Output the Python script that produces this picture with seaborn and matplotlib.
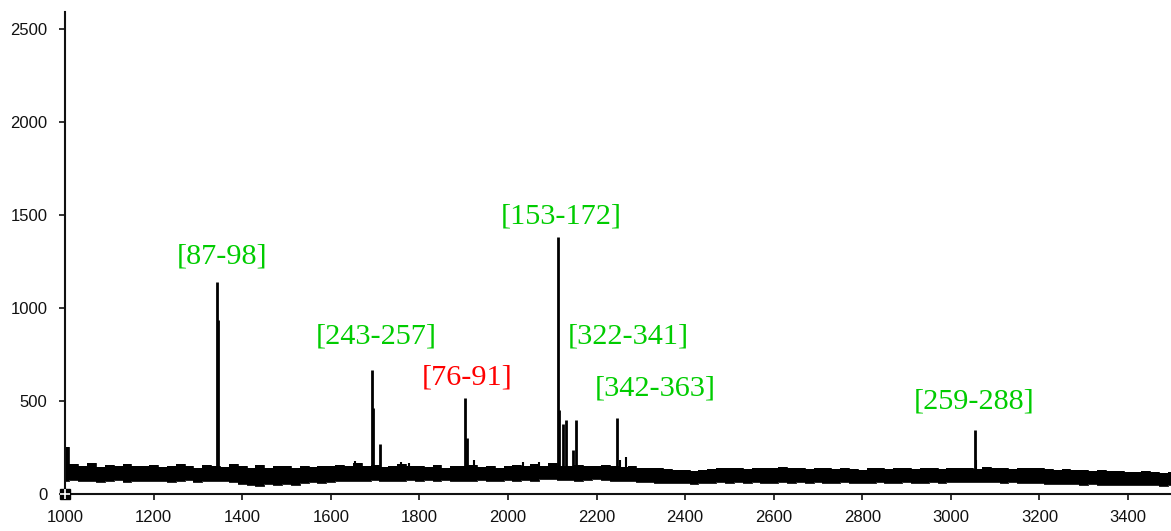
import numpy as np
import matplotlib
matplotlib.use("Agg")
import matplotlib.pyplot as plt
import seaborn as sns

# m/z axis sampling of the baseline envelope (20 Da bins)
mz_start, mz_stop, mz_step = 1000, 3500, 20

# upper edge of the baseline noise band, one value per bin
noise_upper = [
    250, 160, 150, 165, 145, 155, 150, 160, 148, 152,
    158, 145, 150, 162, 148, 140, 155, 150, 145, 160,
    150, 142, 155, 138, 148, 150, 140, 152, 145, 150,
    148, 155, 150, 165, 150, 158, 145, 152, 160, 148,
    150, 145, 158, 140, 152, 148, 155, 145, 150, 142,
    148, 155, 150, 160, 152, 165, 150, 148, 155, 150,
    152, 158, 150, 145, 148, 142, 138, 140, 135, 130,
    128, 125, 130, 135, 140, 138, 142, 135, 140, 138,
    140, 145, 138, 142, 135, 140, 138, 132, 140, 136,
    130, 138, 142, 135, 140, 138, 135, 142, 138, 135,
    140, 138, 142, 135, 145, 138, 140, 135, 138, 140,
    138, 135, 130, 132, 128, 130, 125, 128, 124, 122,
    120, 118, 122, 118, 115, 118,
]

# lower edge of the baseline noise band
noise_lower = [
    70, 75, 68, 72, 65, 70, 74, 66, 70, 72,
    68, 72, 65, 70, 74, 66, 70, 68, 72, 65,
    55, 50, 45, 52, 48, 55, 50, 58, 62, 60,
    65, 70, 68, 72, 70, 75, 68, 72, 70, 74,
    72, 75, 70, 74, 68, 72, 70, 75, 72, 70,
    74, 70, 75, 72, 78, 80, 76, 74, 72, 75,
    78, 76, 72, 70, 68, 65, 62, 60, 58, 60,
    58, 55, 60, 58, 62, 60, 64, 60, 62, 58,
    60, 62, 58, 64, 60, 62, 58, 60, 62, 58,
    60, 58, 62, 60, 58, 62, 60, 58, 62, 60,
    62, 65, 64, 62, 66, 64, 60, 62, 60, 58,
    58, 56, 55, 52, 54, 50, 52, 50, 48, 50,
    48, 50, 46, 48, 45, 47,
]

# small spikes sticking out of the baseline
minor_mz = [1655, 1759, 1777, 1924, 2033, 2071, 2266, 3056, 2254]
minor_int = [180, 172, 165, 183, 172, 170, 199, 183, 183]

# resolved peaks (m/z, intensity)
peak_mz = [1343, 1346, 1693, 1696, 1711, 1904, 1908,
           2112, 2116, 2125, 2130, 2148, 2153, 2247, 3054]
peak_int = [1142, 935, 667, 462, 269, 516, 301,
            1382, 452, 376, 398, 237, 398, 409, 344]

# peptide annotations
label_text = ["[87-98]", "[243-257]", "[76-91]", "[153-172]",
              "[322-341]", "[342-363]", "[259-288]"]
label_mz = [1355, 1703, 1908, 2121, 2272, 2333, 3052]
label_int = [1275, 845, 625, 1490, 845, 565, 495]
label_color = ["#00cc00", "#00cc00", "#ff0000", "#00cc00",
               "#00cc00", "#00cc00", "#00cc00"]

x_ticks = [1000, 1200, 1400, 1600, 1800, 2000, 2200, 2400,
           2600, 2800, 3000, 3200, 3400]
y_ticks = [0, 500, 1000, 1500, 2000, 2500]

sns.set_style("ticks")
plt.rcParams["font.family"] = ["Liberation Sans", "DejaVu Sans"]

fig = plt.figure(figsize=(11.71, 5.31), dpi=100)
ax = fig.add_axes([65 / 1171, 37 / 531, 1 - 65 / 1171, (494 - 12) / 531])

mz_grid = np.arange(mz_start, mz_stop + 1, mz_step)

ax.fill_between(mz_grid, noise_lower, noise_upper, step="mid",
                color="black", lw=0)
sns.lineplot(x=mz_grid, y=noise_upper, drawstyle="steps-mid",
             color="black", lw=0.6, estimator=None, ax=ax)
sns.lineplot(x=mz_grid, y=noise_lower, drawstyle="steps-mid",
             color="black", lw=0.6, estimator=None, ax=ax)

# sticks rise from inside the noise band
stick_base = 90
ax.vlines(minor_mz, stick_base, minor_int, color="black", lw=1.5)
ax.vlines(peak_mz, stick_base, peak_int, color="black", lw=2)

for txt, x, y, c in zip(label_text, label_mz, label_int, label_color):
    ax.text(x, y, txt, ha="center", va="center", color=c,
            fontsize=21.8, family="Liberation Serif")

ax.set_xlim(1000, 3497)
ax.set_ylim(0, 2591)
ax.set_xticks(x_ticks)
ax.set_yticks(y_ticks)
ax.tick_params(axis="both", direction="out", length=4.5, width=1.2,
               colors="#111111", labelsize=12)
ax.tick_params(axis="y", pad=8)
ax.tick_params(axis="x", pad=7)

sns.despine(ax=ax, top=True, right=True)
for side in ("left", "bottom"):
    ax.spines[side].set_linewidth(1.5)
    ax.spines[side].set_color("#111111")

# origin marker
ax.plot([1000], [0], marker="s", ms=7.5, color="black", clip_on=False, zorder=5)
ax.plot([1000], [0], marker="+", ms=7.5, mew=1.2, color="white",
        clip_on=False, zorder=6)

fig.savefig("out.png", dpi=100)
